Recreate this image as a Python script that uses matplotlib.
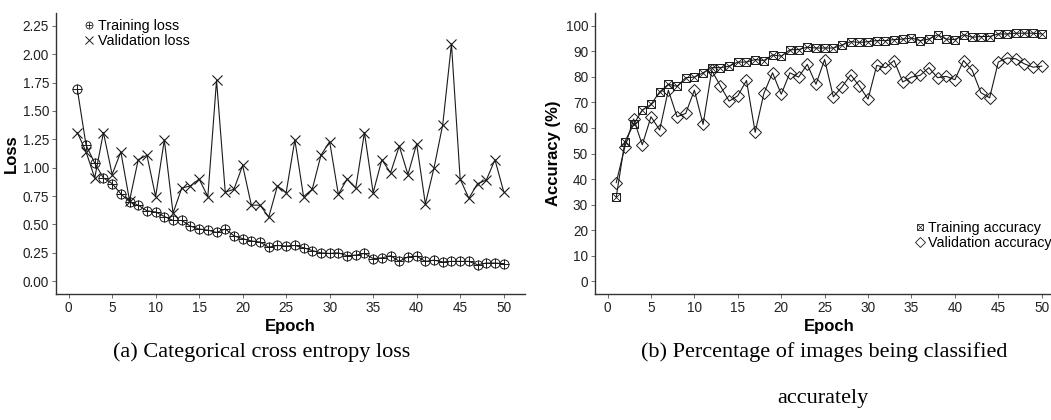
import matplotlib
matplotlib.use('Agg')
import matplotlib.pyplot as plt
import numpy as np

# Values
epochs = np.arange(1, 51)

train_loss = [1.69, 1.20, 1.04, 0.91, 0.86, 0.77, 0.70, 0.67, 0.62, 0.61,
              0.57, 0.535, 0.535, 0.485, 0.46, 0.45, 0.43, 0.46, 0.40, 0.375,
              0.355, 0.345, 0.30, 0.315, 0.31, 0.315, 0.295, 0.27, 0.25, 0.245,
              0.25, 0.225, 0.23, 0.245, 0.20, 0.205, 0.225, 0.175, 0.215, 0.22,
              0.175, 0.185, 0.17, 0.175, 0.175, 0.175, 0.145, 0.16, 0.16, 0.155]
val_loss = [1.31, 1.14, 0.91, 1.31, 0.94, 1.14, 0.71, 1.07, 1.11, 0.745,
            1.245, 0.60, 0.82, 0.84, 0.90, 0.745, 1.77, 0.785, 0.81, 1.02,
            0.67, 0.67, 0.565, 0.84, 0.78, 1.245, 0.745, 0.81, 1.11, 1.23,
            0.765, 0.90, 0.82, 1.31, 0.78, 1.07, 0.955, 1.19, 0.94, 1.21,
            0.68, 1.00, 1.38, 2.09, 0.90, 0.73, 0.86, 0.89, 1.07, 0.79]

train_acc = [33.0, 54.7, 61.4, 67.0, 69.2, 74.1, 77.1, 76.3, 79.7, 79.9,
             81.6, 83.6, 83.6, 84.2, 85.8, 85.8, 86.8, 86.4, 88.6, 88.1,
             90.6, 90.7, 91.6, 91.3, 91.3, 91.3, 92.5, 93.8, 93.5, 93.8,
             94.2, 94.2, 94.6, 94.8, 95.2, 94.2, 94.8, 96.5, 94.8, 94.6,
             96.5, 95.5, 95.8, 95.8, 96.8, 96.8, 97.1, 97.1, 97.1, 96.8]
val_acc = [38.6, 52.7, 63.5, 53.4, 64.4, 59.2, 74.8, 64.4, 65.7, 74.8,
           61.4, 82.5, 76.4, 70.5, 72.6, 78.6, 58.3, 73.5, 81.6, 73.2,
           81.6, 79.9, 84.9, 77.1, 86.8, 72.2, 76.1, 80.8, 76.4, 71.3,
           84.5, 83.6, 86.4, 78.0, 79.9, 80.6, 83.6, 79.7, 80.2, 78.9,
           86.4, 82.5, 73.8, 71.8, 85.8, 87.4, 87.1, 85.1, 83.8, 84.2]

loss_ticks = [0.00, 0.25, 0.50, 0.75, 1.00, 1.25, 1.50, 1.75, 2.00, 2.25]
acc_ticks = list(range(0, 101, 10))
epoch_ticks = list(range(0, 51, 5))

plt.rcParams['font.family'] = ['Liberation Sans', 'DejaVu Sans']
ink = '#1a1a1a'

fig = plt.figure(figsize=(10.51, 4.2), dpi=100)
ax1 = fig.add_axes([0.0533, 0.300, 0.4462, 0.669])
ax2 = fig.add_axes([0.5661, 0.300, 0.4453, 0.669])


def style(ax, ylabel):
    for side in ['top', 'right']:
        ax.spines[side].set_visible(False)
    for side in ['left', 'bottom']:
        ax.spines[side].set_color('#333333')
        ax.spines[side].set_linewidth(1.0)
    ax.tick_params(length=3, width=0.6, color='#555555', labelsize=9.8,
                   labelcolor='#222222', pad=2)
    ax.set_xticks(epoch_ticks)
    ax.set_xlim(-1.45, 52.45)
    ax.set_xlabel('Epoch', fontsize=12, fontweight='bold', labelpad=3)
    ax.set_ylabel(ylabel, fontsize=12, fontweight='bold', labelpad=3)


# (a) loss
ax1.plot(epochs, train_loss, color=ink, lw=0.8, marker='o', ms=6.5, mfc='none', mec=ink, mew=0.7)
ax1.plot(epochs, train_loss, ls='none', marker='+', ms=6.5, mec=ink, mew=0.7)
ax1.plot(epochs, val_loss, color=ink, lw=0.8, marker='x', ms=6.5, mec=ink, mew=0.8)
style(ax1, 'Loss')
ax1.set_yticks(loss_ticks)
ax1.set_yticklabels([f'{t:.2f}' for t in loss_ticks])
ax1.set_ylim(-0.1125, 2.3625)

h_tr = (plt.Line2D([], [], ls='none', marker='o', ms=5, mfc='none', mec=ink, mew=0.6),
        plt.Line2D([], [], ls='none', marker='+', ms=5, mec=ink, mew=0.6))
h_va = plt.Line2D([], [], ls='none', marker='x', ms=5.5, mec=ink, mew=0.7)
ax1.legend([h_tr, h_va], ['Training loss', 'Validation loss'], loc='upper left',
           bbox_to_anchor=(0.081, 0.955), bbox_transform=fig.transFigure,
           frameon=False, fontsize=10.3, handlelength=0.6, handletextpad=0.3,
           labelspacing=0.05, borderpad=0, borderaxespad=0)

# (b) accuracy
ax2.plot(epochs, train_acc, color=ink, lw=0.8, marker='s', ms=6, mfc='none', mec=ink, mew=0.7)
ax2.plot(epochs, train_acc, ls='none', marker='x', ms=5.5, mec=ink, mew=0.6)
ax2.plot(epochs, val_acc, color=ink, lw=0.8, marker='D', ms=6.5, mfc='none', mec=ink, mew=0.7)
style(ax2, 'Accuracy (%)')
ax2.set_yticks(acc_ticks)
ax2.set_ylim(-5, 105)

h_ta = (plt.Line2D([], [], ls='none', marker='s', ms=5, mfc='none', mec=ink, mew=0.6),
        plt.Line2D([], [], ls='none', marker='x', ms=4.5, mec=ink, mew=0.5))
h_vac = plt.Line2D([], [], ls='none', marker='D', ms=5, mfc='none', mec=ink, mew=0.6)
ax2.legend([h_ta, h_vac], ['Training accuracy', 'Validation accuracy'], loc='upper left',
           bbox_to_anchor=(0.871, 0.473), bbox_transform=fig.transFigure,
           frameon=False, fontsize=10.3, handlelength=0.6, handletextpad=0.3,
           labelspacing=0.05, borderpad=0, borderaxespad=0)

# captions
cap = dict(ha='center', va='center', fontsize=16, family=['Liberation Serif', 'DejaVu Serif'])
fig.text(0.249, 0.162, '(a) Categorical cross entropy loss', **cap)
fig.text(0.784, 0.162, '(b) Percentage of images being classified', **cap)
fig.text(0.783, 0.052, 'accurately', **cap)

fig.savefig('out.png', dpi=100)
